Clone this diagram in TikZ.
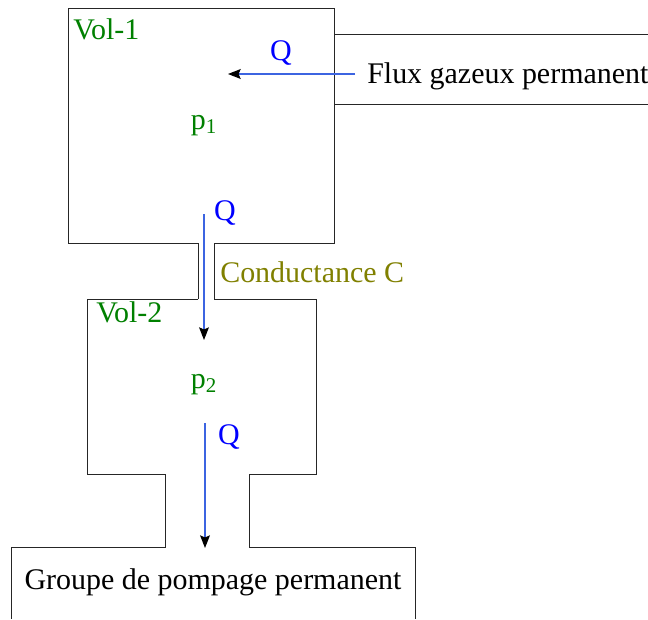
\documentclass[tikz,border=0pt]{standalone}
\usepackage{fontspec}
\setmainfont{Liberation Serif}
\usetikzlibrary{arrows.meta}

\definecolor{volgreen}{RGB}{0,128,0}
\definecolor{qblue}{RGB}{0,0,255}
\definecolor{flowblue}{RGB}{60,100,225}
\definecolor{condolive}{RGB}{128,128,0}

\tikzset{
	wall/.style = {line width = 0.7pt, black!85},
	flow/.style = {flowblue, line width = 0.8pt, -{Stealth[black, length = 9pt, width = 7pt, inset = 1.5pt]}},
	lbl/.style = {inner sep = 0pt, anchor = base}
}

\begin{document}
\begin{tikzpicture}[x = 0.025cm, y = -0.025cm, font = \fontsize{21.3}{25.6}\selectfont]
	\useasboundingbox (0, 0) rectangle (648, 619);
	
	\draw[wall] (198, 299) -- (198, 243) -- (68, 243) -- (68, 8) -- (334, 8) -- (334, 243) -- (214, 243) -- (214, 299);
	\draw[wall] (198, 299) -- (87, 299) -- (87, 474) -- (165, 474) -- (165, 547) -- (11, 547) -- (11, 619);
	\draw[wall] (214, 299) -- (316, 299) -- (316, 474) -- (249, 474) -- (249, 547) -- (415, 547) -- (415, 619);
	\draw[wall] (648, 34) -- (334, 34) -- (334, 104) -- (648, 104);
	
	\node[lbl, anchor = base west, volgreen] (vol1) at (73, 39) {Vol-1};
	\node[lbl, volgreen] (p1) at (204, 129) {p\textsubscript{1}};
	\node[lbl, anchor = base west, volgreen] (vol2) at (96, 322) {Vol-2};
	\node[lbl, volgreen] (p2) at (204, 388) {p\textsubscript{2}};
	
	\node[lbl, anchor = base west] (flux) at (367, 83) {Flux gazeux permanent};
	\node[lbl] (pompe) at (213, 589) {Groupe de pompage permanent};
	\node[lbl, anchor = base west, condolive] (cond) at (220, 282) {Conductance C};
	
	\node[lbl, qblue] (q1) at (281, 60) {Q};
	\node[lbl, qblue] (q2) at (225, 220) {Q};
	\node[lbl, qblue] (q3) at (229, 444) {Q};
	
	\coordinate (in0) at (355, 74);
	\coordinate (in1) at (228, 74);
	\coordinate (c0) at (204, 214);
	\coordinate (c1) at (204, 340);
	\coordinate (out0) at (205, 423);
	\coordinate (out1) at (205, 548);
	
	\draw[flow] (in0) -- (in1);
	\draw[flow] (c0) -- (c1);
	\draw[flow] (out0) -- (out1);
\end{tikzpicture}
\end{document}
